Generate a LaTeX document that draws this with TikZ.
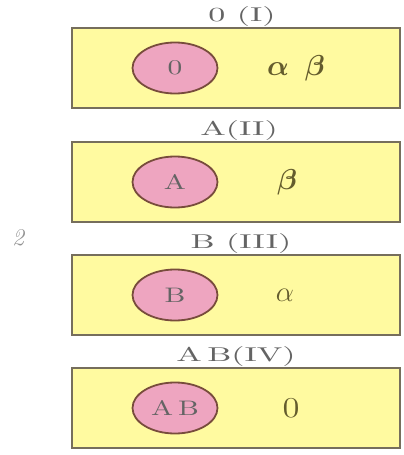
\documentclass[tikz,border=0pt]{standalone}
\usepackage{amsmath,amssymb,bm}
\usepackage{tikz}
\usetikzlibrary{shapes.geometric,positioning}
\definecolor{serum}{RGB}{255,250,160}
\definecolor{cellpink}{RGB}{238,165,192}
\definecolor{framegray}{RGB}{118,110,92}
\definecolor{cellrim}{RGB}{120,76,60}
\definecolor{inkgray}{RGB}{100,100,100}
\definecolor{inkolive}{RGB}{100,92,45}
\newcommand{\wide}[2]{\scalebox{#1}[1]{#2}}
\tikzset{
  grpbox/.style   = {draw=framegray,line width=1.2pt,fill=serum,minimum width=164pt,minimum height=40pt,inner sep=0pt},
  antigen/.style  = {ellipse,draw=cellrim,line width=0.9pt,fill=cellpink,minimum width=42.5pt,minimum height=25.5pt,inner sep=0pt,font=\fontsize{10.5}{12}\selectfont,text=inkgray},
  grplabel/.style = {font=\normalsize,text=inkgray,inner sep=0pt},
  antibody/.style = {font=\Large,text=inkolive}
}
% #1 name, #2 row centre, #3 group label, #4 label x, #5 antigen, #6 antibody, #7 antibody x
\newcommand{\bloodrow}[7]{%
  \node[grpbox] (#1box) at (236,#2) {};
  \node[grplabel,anchor=south] (#1lab) at (#4,#2-41.5) {\wide{1.7}{#3}};
  \node[antigen] (#1ag) at (175,#2) {\wide{1.4}{#5}};
  \node[antibody] (#1ab) at (#7,#2) {#6};
}

\begin{document}
\begin{tikzpicture}[x=0.5pt,y=-0.5pt]
  \useasboundingbox (0,0) rectangle (403,455);
  \bloodrow{o}{68}{0 (I)}{242}{0}{$\bm{\alpha}\;\;\bm{\beta}$}{296}
  \bloodrow{a}{182}{A(II)}{239}{A}{$\bm{\beta}$}{287}
  \bloodrow{b}{295}{B (III)}{241}{B}{$\alpha$}{285}
  \bloodrow{ab}{408}{A\,B(IV)}{236}{A\,B}{\wide{1.2}{0}}{291}
  \node[font=\large\itshape,text=inkgray!70] (fignum) at (18,238) {2};
\end{tikzpicture}
\end{document}
